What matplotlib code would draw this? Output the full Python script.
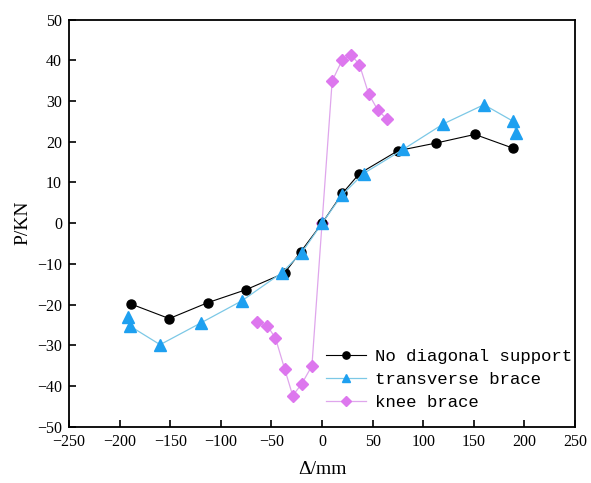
import numpy as np
import matplotlib
matplotlib.use("Agg")
import matplotlib.pyplot as plt

# 데이터
x_none = [-189, -151, -113, -75, -37, -21, 0, 20, 37, 75, 113, 151, 189]
y_none = [-19.8, -23.4, -19.5, -16.3, -12.2, -7.0, 0, 7.3, 12.2, 17.8, 19.7, 21.8, 18.4]

x_trans = [-192, -190, -160, -120, -79, -40, -20, 0, 20, 41, 80, 120, 160, 189, 192]
y_trans = [-22.9, -25.2, -29.8, -24.5, -19.0, -12.2, -7.2, 0, 7.0, 12.2, 18.1, 24.4, 29.1, 25.0, 22.1]

x_knee = [-64, -54, -46, -37, -29, -20, -10, 0, 10, 20, 29, 37, 46, 55, 64]
y_knee = [-24.3, -25.2, -28.2, -35.7, -42.3, -39.4, -35.0, 0, 34.9, 40.1, 41.3, 38.9, 31.8, 27.8, 25.6]

labels = ["No diagonal support", "transverse brace", "knee brace"]

fig = plt.figure(figsize=(5.91, 4.83), dpi=100)
ax = fig.add_axes([0.1168, 0.116, 0.973 - 0.1168, 0.9596 - 0.116])

ax.plot(x_none, y_none, color="black", lw=0.8, marker="o", ms=6.5,
        mfc="black", mec="black", label=labels[0], zorder=3)
ax.plot(x_trans, y_trans, color="#7cc8e6", lw=0.9, marker="^", ms=8,
        mfc="#1ea0f0", mec="#1ea0f0", label=labels[1], zorder=4)
ax.plot(x_knee, y_knee, color="#dfa6ec", lw=0.9, marker="D", ms=6.5,
        mfc="#dd77ee", mec="#dd77ee", label=labels[2], zorder=2)

ax.set_xlim(-250, 250)
ax.set_ylim(-50, 50)
ax.set_xticks(np.arange(-250, 251, 50))
ax.set_yticks(np.arange(-50, 51, 10))

ax.tick_params(direction="in", length=5, width=1.2, top=False, right=False,
               labelsize=11.5, pad=5)
for lab in ax.get_xticklabels() + ax.get_yticklabels():
    lab.set_fontfamily("Liberation Serif")
for sp in ax.spines.values():
    sp.set_linewidth(1.3)

ax.set_xlabel("Δ/mm", fontsize=14, family="Liberation Serif", labelpad=8)
ax.set_ylabel("P/KN", fontsize=14, family="Liberation Serif", labelpad=4)

# 범례: 오른쪽 아래, 테두리 없음
leg = ax.legend(loc="lower right", frameon=False,
                bbox_to_anchor=(1.014, 0.016),
                prop={"family": "Liberation Mono", "size": 12.5},
                handlelength=2.3, handletextpad=0.5, labelspacing=0.45,
                borderaxespad=0.2, markerscale=0.8)

fig.savefig("out.png", dpi=100)
